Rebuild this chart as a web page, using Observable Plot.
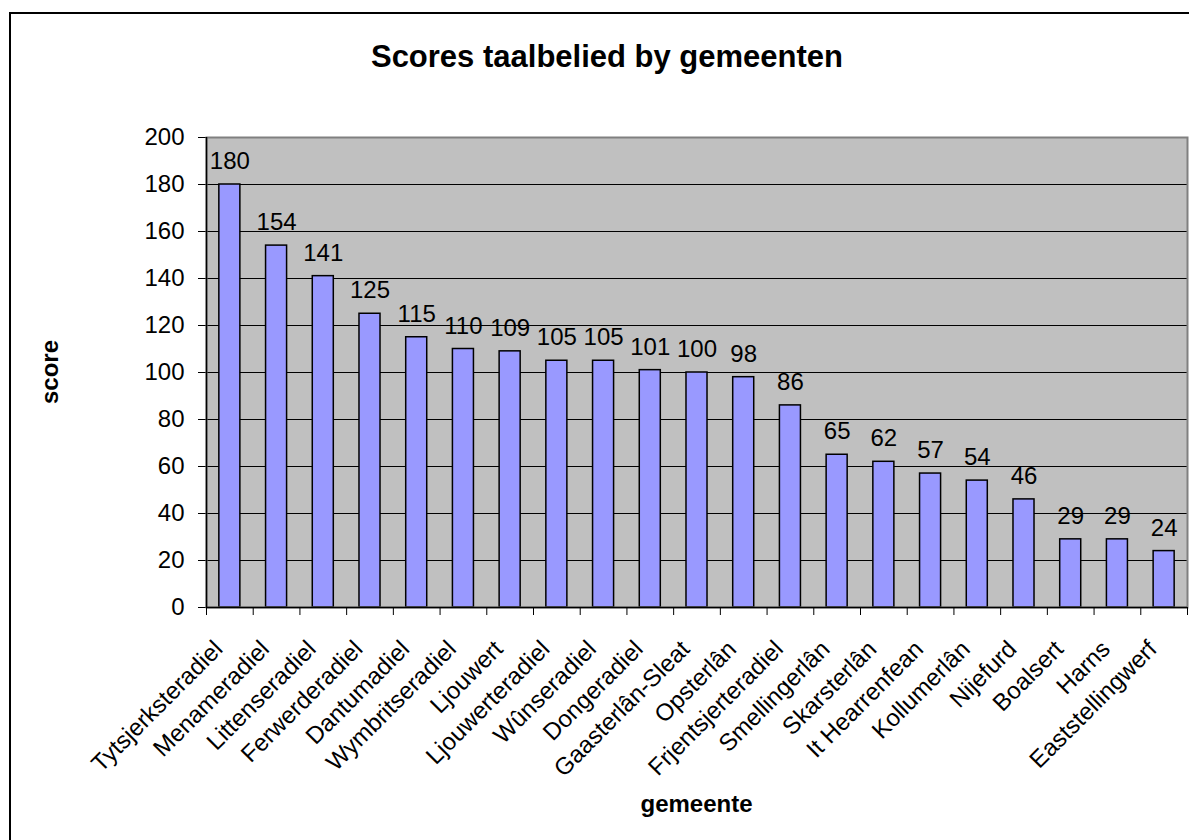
<!DOCTYPE html>
<html>
<head>
<meta charset="utf-8">
<script src="https://cdn.jsdelivr.net/npm/d3@7"></script>
<script src="https://cdn.jsdelivr.net/npm/@observablehq/plot@0.6"></script>
<style>
  html, body { margin: 0; padding: 0; background: #fff; overflow: hidden; }
  #wrap { position: relative; width: 1189px; height: 840px; font-family: "Liberation Sans", Arial, sans-serif; color: #000; }
  #chart { position: absolute; left: 0; top: 0; }
  #box { position: absolute; left: 9px; top: 12px; width: 1200px; height: 900px; border: 2px solid #000; box-sizing: border-box; pointer-events: none; }
  .lbl { position: absolute; font-weight: bold; line-height: 1; white-space: nowrap; }
  #title { left: 0; width: 1214px; top: 41px; text-align: center; font-size: 31px; }
  #xlabel { left: 206px; width: 981px; top: 792px; text-align: center; font-size: 24px; }
  #ylabel { left: 50px; top: 372px; font-size: 24px; transform: translate(-50%, -50%) rotate(-90deg); }
</style>
</head>
<body>
<div id="wrap">
  <div id="chart"></div>
  <div id="box"></div>
  <div class="lbl" id="title">Scores taalbelied by gemeenten</div>
  <div class="lbl" id="ylabel">score</div>
  <div class="lbl" id="xlabel">gemeente</div>
</div>
<script>
// Municipalities, in descending order of score
const names = [
  "Tytsjerksteradiel", "Menameradiel", "Littenseradiel", "Ferwerderadiel",
  "Dantumadiel", "Wymbritseradiel", "Ljouwert", "Ljouwerteradiel",
  "Wûnseradiel", "Dongeradiel", "Gaasterlân-Sleat", "Opsterlân",
  "Frjentsjerteradiel", "Smellingerlân", "Skarsterlân", "It Hearrenfean",
  "Kollumerlân", "Nijefurd", "Boalsert", "Harns", "Eaststellingwerf"
];
// Language-policy score per municipality
const scores = [180, 154, 141, 125, 115, 110, 109, 105, 105, 101, 100, 98, 86, 65, 62, 57, 54, 46, 29, 29, 24];
// Value axis ticks
const yTicks = [0, 20, 40, 60, 80, 100, 120, 140, 160, 180, 200];

const data = names.map((name, i) => ({name, score: scores[i]}));

const W = 1189, H = 840;
const margin = {left: 206, right: 2, top: 137, bottom: 233};
// width of one category slot along the x axis
const step = (W - margin.left - margin.right) / names.length;

const chart = Plot.plot({
  width: W,
  height: H,
  marginLeft: margin.left,
  marginRight: margin.right,
  marginTop: margin.top,
  marginBottom: margin.bottom,
  style: {
    fontFamily: "'Liberation Sans', Arial, sans-serif",
    fontSize: "24px",
    background: "transparent",
    color: "#000",
    overflow: "visible"
  },
  x: {domain: names, paddingInner: 0.55, paddingOuter: 0.275, round: false, axis: null},
  y: {domain: [0, 200], ticks: yTicks, tickSize: 8, tickPadding: 14, label: null},
  marks: [
    // grey plot area
    Plot.frame({fill: "#C0C0C0"}),
    // horizontal gridlines
    Plot.ruleY(yTicks, {stroke: "#000", strokeWidth: 1}),
    // bars
    Plot.barY(data, {x: "name", y: "score", fill: "#9999FF", stroke: "#000", strokeWidth: 1.5}),
    // value labels above the bars
    Plot.text(data, {x: "name", y: "score", text: (d) => String(d.score), dy: -23, fill: "#000"}),
    // plot area border
    Plot.frame({stroke: "#808080", strokeWidth: 2}),
    // axis lines
    Plot.ruleY([0], {stroke: "#000", strokeWidth: 1.5}),
    Plot.ruleX([names[0]], {y1: 0, y2: 200, dx: -step / 2, stroke: "#000", strokeWidth: 1.5}),
    // category boundary ticks below the x axis
    Plot.ruleX(names, {y1: 0, y2: 0, insetBottom: -8, dx: -step / 2, stroke: "#000", strokeWidth: 1}),
    Plot.ruleX([names[names.length - 1]], {y1: 0, y2: 0, insetBottom: -8, dx: step / 2, stroke: "#000", strokeWidth: 1}),
    // rotated category labels
    Plot.text(names, {
      x: (d) => d, frameAnchor: "bottom", rotate: -45,
      textAnchor: "end", lineAnchor: "top", dx: -18, dy: 31, fill: "#000"
    })
  ]
});

document.getElementById("chart").appendChild(chart);
</script>
</body>
</html>
